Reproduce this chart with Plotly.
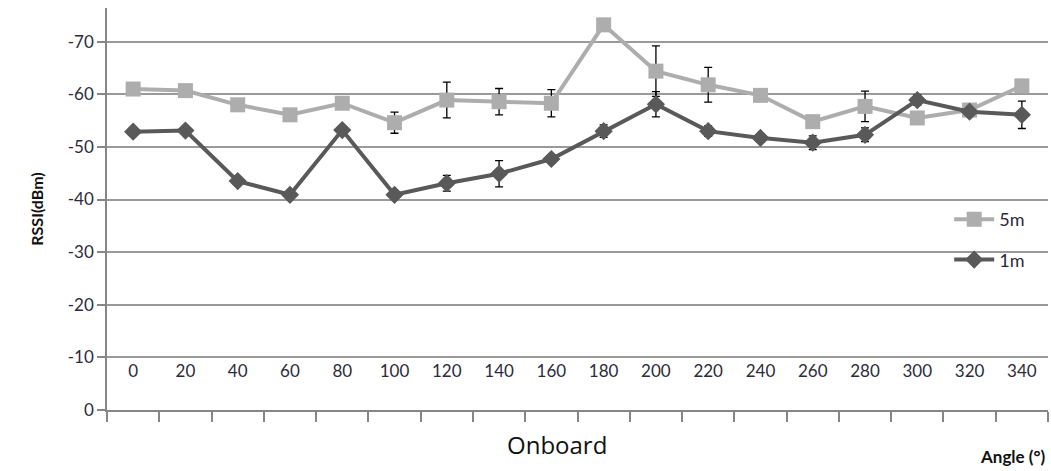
import plotly.graph_objects as go

angles = ["0", "20", "40", "60", "80", "100", "120", "140", "160", "180",
          "200", "220", "240", "260", "280", "300", "320", "340"]
rssi_5m = [-61.0, -60.7, -58.0, -56.1, -58.3, -54.6, -58.9, -58.6, -58.3, -73.2,
           -64.4, -61.8, -59.8, -54.8, -57.7, -55.5, -57.0, -61.6]
err_5m = [0, 0, 0, 0, 0, 2.0, 3.4, 2.5, 2.6, 0,
          4.8, 3.3, 0, 0, 2.9, 0, 0, 0]
rssi_1m = [-52.9, -53.1, -43.5, -40.9, -53.2, -40.9, -43.1, -44.9, -47.7, -53.0,
           -58.1, -53.0, -51.7, -50.8, -52.3, -58.9, -56.7, -56.1]
err_1m = [0, 0, 0, 0, 0, 0, 1.5, 2.5, 0.8, 1.2,
          2.4, 1.0, 0.8, 1.3, 1.3, 1.0, 0, 2.6]
y_ticks = [0, -10, -20, -30, -40, -50, -60, -70]
y_ticktext = ["0", "-10", "-20", "-30", "-40", "-50", "-60", "-70"]

light = "#ADADAD"
dark = "#595959"

fig = go.Figure()
fig.add_trace(go.Scatter(
    x=angles, y=rssi_5m, name="5m", mode="lines+markers", legendgroup="a",
    line=dict(color=light, width=4),
    marker=dict(symbol="square", size=15, color=light),
    error_y=dict(type="data", array=err_5m, visible=True, color="#000000",
                 thickness=1.3, width=4),
))
fig.add_trace(go.Scatter(
    x=angles, y=rssi_1m, name="1m", mode="lines+markers", legendgroup="b",
    xaxis="x2", yaxis="y",
    line=dict(color=dark, width=4),
    marker=dict(symbol="diamond", size=14, color=dark),
    error_y=dict(type="data", array=err_1m, visible=True, color="#000000",
                 thickness=1.3, width=4),
))

tick_font = dict(family="Lato, Open Sans, sans-serif", size=17, color="#2b2b3b")

fig.update_layout(
    width=1051, height=471,
    margin=dict(l=107, r=3, t=8, b=61),
    paper_bgcolor="white", plot_bgcolor="white",
    showlegend=True,
    legend=dict(x=0.895, y=0.52, xanchor="left", yanchor="top",
                font=dict(family="Lato, Open Sans, sans-serif", size=18, color="#2b2b3b"),
                bgcolor="rgba(0,0,0,0)", itemwidth=40, tracegroupgap=14),
    font=dict(family="Lato, Open Sans, sans-serif"),
    xaxis=dict(
        type="category", categoryorder="array", categoryarray=angles,
        range=[-0.5, 17.5],
        showgrid=False, showline=True, linecolor="#868686", linewidth=1.5,
        ticks="outside", ticklen=10, tickcolor="#868686", tickwidth=1.5,
        tickson="boundaries", showticklabels=False, zeroline=False,
    ),
    xaxis2=dict(
        type="category", categoryorder="array", categoryarray=angles,
        range=[-0.5, 17.5], overlaying="x", anchor="free", position=0.127,
        side="bottom", showline=False, ticks="", showgrid=False, zeroline=False,
        tickfont=tick_font,
    ),
    yaxis=dict(
        range=[0, -76.4], tickvals=y_ticks, ticktext=y_ticktext,
        showgrid=True, gridcolor="#9a9a9a", gridwidth=1.5,
        showline=True, linecolor="#868686", linewidth=1.5,
        ticks="outside", ticklen=8, tickcolor="#868686", tickwidth=1.5,
        tickfont=tick_font, zeroline=False,
    ),
)

fig.add_annotation(text="<b>RSSI(dBm)</b>", xref="paper", yref="paper",
                   x=-0.088, y=0.5, textangle=-90, showarrow=False,
                   font=dict(family="Lato, Open Sans, sans-serif", size=16, color="#111111"))
fig.add_annotation(text="Onboard", xref="paper", yref="paper",
                   x=0.478, y=-0.04, yanchor="top", showarrow=False,
                   font=dict(family="Open Sans, sans-serif", size=24, color="#111111"))
fig.add_annotation(text="<b>Angle (°)</b>", xref="paper", yref="paper",
                   x=1.0, y=-0.085, xanchor="right", yanchor="top", showarrow=False,
                   font=dict(family="Lato, Open Sans, sans-serif", size=17, color="#111111"))

fig.write_html("out.html")
